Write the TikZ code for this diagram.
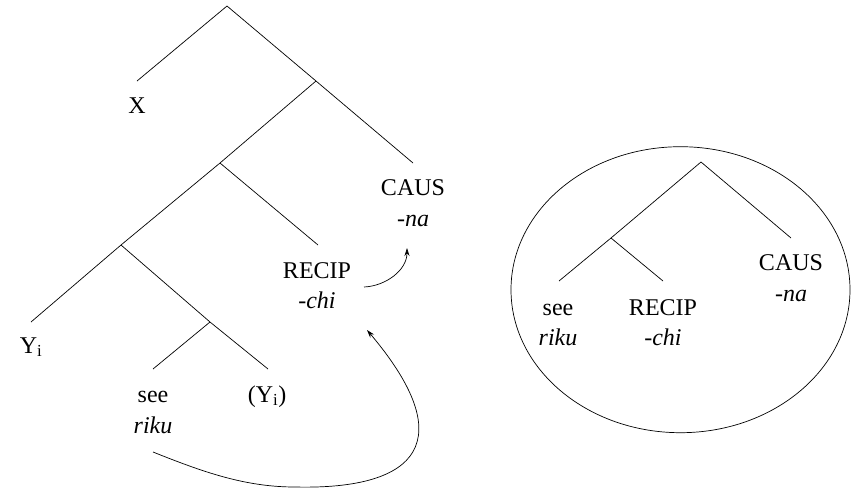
\documentclass[tikz,border=0pt]{standalone}
\usepackage{fontspec}
\setmainfont{Liberation Serif}
\usetikzlibrary{arrows.meta}
\begin{document}
\begin{tikzpicture}[x=1pt,y=-1pt,
  branch/.style={line width=0.7pt},
  lab/.style={anchor=base,inner sep=0pt,font=\fontsize{24}{29}\selectfont},
  move/.style={line width=0.7pt,-{Stealth[length=8pt,width=5pt]}}]
\useasboundingbox (0,0) rectangle (854,488);

% --- left tree: internal nodes and leaf ends
\coordinate (r)  at (227,6);
\coordinate (xl) at (137,81);
\coordinate (n1) at (316,81);
\coordinate (cl) at (413,163);
\coordinate (n2) at (220,163);
\coordinate (rl) at (318,245);
\coordinate (n3) at (121,245);
\coordinate (yl) at (31,322);
\coordinate (vl) at (268,369);
\coordinate (n4) at (210,322);
\coordinate (sl) at (153,369);

\draw[branch] (xl) -- (r) -- (n1) -- (cl);
\draw[branch] (n1) -- (n2) -- (n3) -- (yl);
\draw[branch] (n2) -- (rl);
\draw[branch] (n3) -- (n4) -- (vl);
\draw[branch] (n4) -- (sl);

% leaf labels
\node[lab] (X)    at (137,113) {X};
\node[lab] (caus) at (413,195) {CAUS};
\node[lab] (na)   at (413,226) {\textit{-na}};
\node[lab] (recip) at (317,278) {RECIP};
\node[lab] (chi)  at (317,308) {\textit{-chi}};
\node[lab] (Y)    at (31,353) {Y\textsubscript{i}};
\node[lab] (see)  at (153,402) {see};
\node[lab] (riku) at (153,433) {\textit{riku}};
\node[lab] (trace) at (267,402) {(Y\textsubscript{i})};

% head movements
\coordinate (m1s) at (364,287);
\coordinate (m1e) at (407,248);
\draw[move] (m1s) .. controls (386,286) and (407,270) .. (m1e);

\coordinate (m2s) at (153,452);
\coordinate (m2b) at (295,487);
\coordinate (m2e) at (367,330);
\draw[move] (m2s) .. controls (203,472) and (245,487) .. (m2b)
               .. controls (420,490) and (460,440) .. (m2e);

% --- right tree inside the ellipse
\draw[branch] (680.5,289.7) ellipse [x radius=169.5pt, y radius=143pt];

\coordinate (R)   at (701,162);
\coordinate (RC)  at (791,238);
\coordinate (RN)  at (611,238);
\coordinate (RS)  at (559,281);
\coordinate (RR)  at (663,281);
\draw[branch] (RN) -- (R) -- (RC);
\draw[branch] (RS) -- (RN) -- (RR);

\node[lab] (caus2)  at (791,270) {CAUS};
\node[lab] (na2)    at (791,301) {\textit{-na}};
\node[lab] (see2)   at (558,315) {see};
\node[lab] (riku2)  at (558,345) {\textit{riku}};
\node[lab] (recip2) at (663,315) {RECIP};
\node[lab] (chi2)   at (663,345) {\textit{-chi}};
\end{tikzpicture}
\end{document}
